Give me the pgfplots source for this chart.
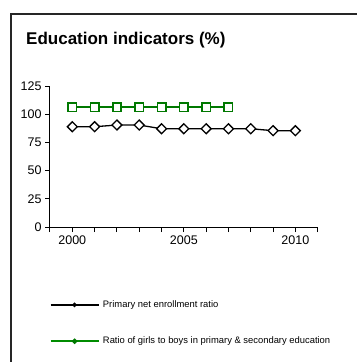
\documentclass[border=0pt]{standalone}
\usepackage{fontspec}
\setmainfont{Liberation Sans}
\usepackage{pgfplots}
\pgfplotsset{compat=1.18}
\definecolor{eduGreen}{RGB}{0,120,0}
\definecolor{legGreen}{RGB}{0,140,0}
\begin{document}
\begin{tikzpicture}[x=1pt,y=1pt]
\useasboundingbox (0pt,0pt) rectangle (357pt,-362pt);
\draw[line width=2pt, black!85] (11pt,-362pt) -- (11pt,-13.7pt) -- (357pt,-13.7pt);
\node[anchor=base west, font=\fontsize{17}{20}\selectfont\bfseries, inner sep=0pt] at (26pt,-44pt) {Education indicators (\%)};
\begin{axis}[
  at={(50pt,-227pt)}, anchor=south west, scale only axis,
  width=267.7pt, height=141pt,
  xmin=1999, xmax=2011, ymin=0, ymax=125,
  axis x line*=bottom, axis y line*=left,
  axis line style={line width=1pt, -},
  xtick={1999,...,2011},
  xticklabels={,2000,,,,,2005,,,,,2010,},
  ytick={0,25,50,75,100,125},
  tick align=outside, major tick length=5pt,
  tick style={line width=1pt, black},
  ticklabel style={font=\fontsize{12.5}{14}\selectfont},
  /pgf/number format/assume math mode=true,
  clip=false,
  legend cell align=left,
  legend style={at={(-0.002,-0.511)}, anchor=north west, draw=none, fill=none,
    inner sep=0pt, row sep=25pt, column sep=2pt,
    nodes={inner sep=1.5pt},
    font=\fontsize{9.4}{11}\selectfont},
]
\addplot[black, line width=1.3pt, mark=square*, mark size=3.5pt,
  mark options={rotate=45, fill=white, draw=black, line width=1.3pt},
  legend image code/.code={\draw[black, line width=1.3pt] (0pt,0pt) -- (48pt,0pt);
    \fill[black] (24pt,0pt) circle (1.6pt);}]
  coordinates {(2000,88.9) (2001,88.9) (2002,90.4) (2003,90.4) (2004,87.1)
    (2005,87.1) (2006,87.1) (2007,87.1) (2008,87.1) (2009,85.4) (2010,85.4)};
\addlegendentry{Primary net enrollment ratio}
\addplot[eduGreen, line width=1.8pt, mark=square*, mark size=4.2pt,
  mark options={fill=white, draw=eduGreen, line width=1.6pt},
  legend image code/.code={\draw[legGreen, line width=1.8pt] (0pt,0pt) -- (48pt,0pt);
    \fill[eduGreen] (24pt,0pt) circle (1.7pt);}]
  coordinates {(2000,106.1) (2001,106.1) (2002,106.1) (2003,106.1)
    (2004,106.1) (2005,106.1) (2006,106.1) (2007,106.1)};
\addlegendentry{Ratio of girls to boys in primary \& secondary education}
\end{axis}
\end{tikzpicture}
\end{document}
